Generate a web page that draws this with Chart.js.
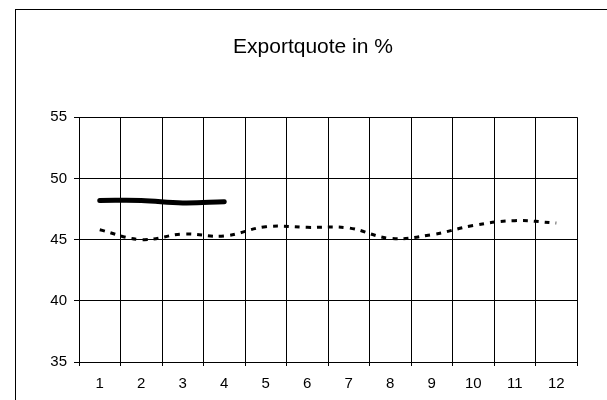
<!DOCTYPE html>
<html>
<head>
<meta charset="utf-8">
<script src="https://cdn.jsdelivr.net/npm/chart.js@4/dist/chart.umd.min.js"></script>
<style>
  html, body { margin: 0; padding: 0; background: #fff; }
  #wrap { width: 607px; height: 400px; position: relative; }
</style>
</head>
<body>
<div id="wrap"><canvas id="c" width="607" height="400"></canvas></div>
<script>
const categories = ['1','2','3','4','5','6','7','8','9','10','11','12'];
const seriesSolid = [48.2, 48.2, 48.0, 48.1, null, null, null, null, null, null, null, null];
const seriesDashed = [45.8, 45.0, 45.45, 45.3, 46.05, 46.0, 45.95, 45.1, 45.4, 46.15, 46.55, 46.35];
const yTicks = [35, 40, 45, 50, 55];
const titleText = 'Exportquote in %';

const frame = {
  id: 'frame',
  beforeDraw(chart) {
    const ctx = chart.ctx;
    ctx.save();
    ctx.fillStyle = '#fff';
    ctx.fillRect(0, 0, chart.width, chart.height);
    ctx.strokeStyle = '#000';
    ctx.lineWidth = 1;
    ctx.strokeRect(15.5, 9.5, 700, 500);
    ctx.restore();
  }
};

Chart.defaults.font.family = '"Liberation Sans", Arial, sans-serif';
Chart.defaults.color = '#000';

new Chart(document.getElementById('c'), {
  type: 'line',
  data: {
    labels: categories,
    datasets: [
      {
        data: seriesSolid,
        borderColor: '#000',
        borderWidth: 5,
        borderCapStyle: 'round',
        pointRadius: 0,
        tension: 0.4,
        spanGaps: false
      },
      {
        data: seriesDashed,
        borderColor: '#000',
        borderWidth: 3,
        borderDash: [5, 6],
        pointRadius: 0,
        tension: 0.4
      }
    ]
  },
  options: {
    responsive: false,
    animation: false,
    devicePixelRatio: 1,
    layout: { padding: { left: 19, right: 0, top: 0, bottom: 0 } },
    plugins: {
      legend: { display: false },
      tooltip: { enabled: false },
      title: {
        display: true,
        text: titleText,
        color: '#000',
        font: { size: 21, weight: 'normal' },
        padding: { top: 35, bottom: 57 }
      }
    },
    scales: {
      x: {
        offset: true,
        grid: { offset: true, color: '#000', lineWidth: 1, tickLength: 4, drawTicks: true, tickColor: '#000' },
        border: { display: true, color: '#000', width: 1 },
        ticks: { font: { size: 15 }, padding: 9, maxRotation: 0, autoSkip: false },
        afterFit(scale) { scale.height = 38; }
      },
      y: {
        min: 35,
        max: 55,
        afterBuildTicks(scale) { scale.ticks = yTicks.map(v => ({ value: v })); },
        grid: { color: '#000', lineWidth: 1, tickLength: 5, tickColor: '#000' },
        border: { color: '#000', width: 1 },
        ticks: { font: { size: 15 }, padding: 7 },
        afterFit(scale) { scale.width = 60; }
      },
      yr: {
        position: 'right',
        display: true,
        grid: { display: false },
        border: { display: false },
        ticks: { display: false },
        afterFit(scale) { scale.width = 30; }
      }
    }
  },
  plugins: [frame]
});
</script>
</body>
</html>
